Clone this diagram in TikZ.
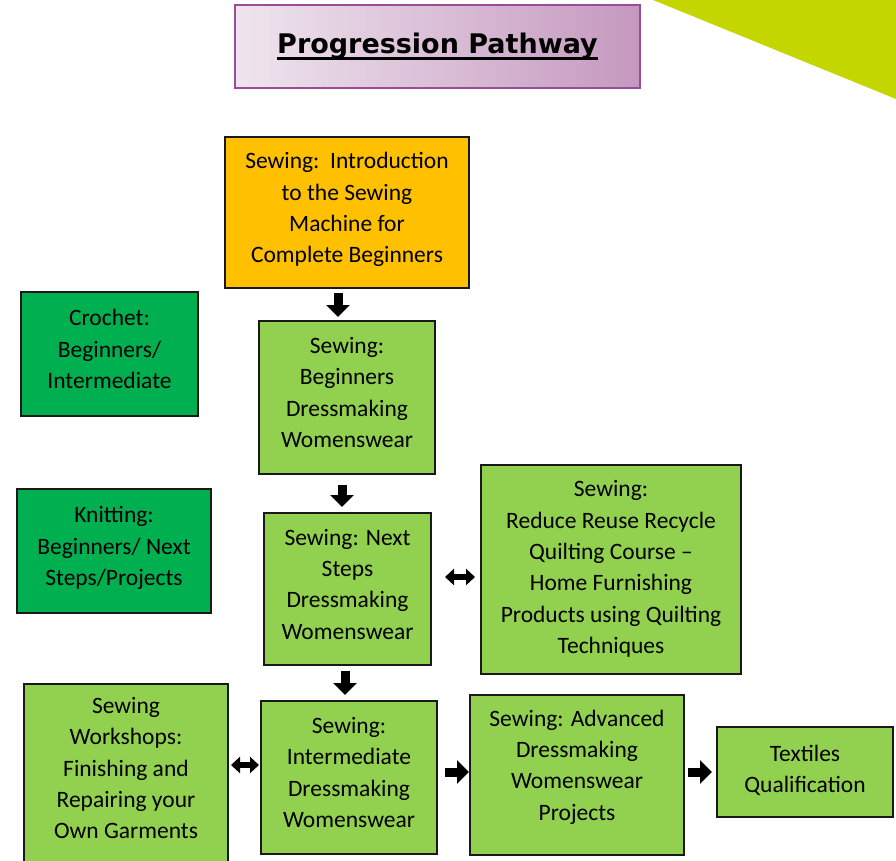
\documentclass[tikz,border=0pt]{standalone}
\usepackage{fontspec}
\setmainfont{Carlito}
\newfontfamily\titlefont{DejaVu Sans}
\usetikzlibrary{arrows.meta}
\definecolor{sewgreen}{HTML}{92D050}
\definecolor{craftgreen}{HTML}{00B050}
\definecolor{introorange}{HTML}{FFC000}
\definecolor{cornerlime}{HTML}{C4D600}
\definecolor{titlepurple}{HTML}{9E4A9A}
\definecolor{titleleft}{HTML}{EFE5EE}
\definecolor{titleright}{HTML}{C598BF}
\newcommand\thickul[1]{\setbox0\hbox{#1}\rlap{\vrule width\wd0 height -4pt depth 7pt}\box0}
\begin{document}
\begin{tikzpicture}[x=1pt,y=-1pt,
  course/.style={draw=black!90,line width=2pt,inner sep=0pt,align=center,fill=sewgreen,
    text depth=10pt,font=\fontsize{23.5}{31.3}\selectfont},
  bigarrow/.style={line width=9pt,-{Triangle[length=12pt,width=23pt]}},
  twoway/.style={line width=6pt,{Triangle[length=9pt,width=16pt]}-{Triangle[length=9pt,width=16pt]}}]
\useasboundingbox (0,0) rectangle (896,860);
\clip (0,0) rectangle (896,860);

\fill[cornerlime] (653,0) -- (896,0) -- (896,99) -- cycle;

\node[draw=titlepurple,line width=2.5pt,left color=titleleft,right color=titleright,
  minimum width=405pt,minimum height=83pt,inner sep=0pt] (title) at (437.5,46.5)
  {\titlefont\bfseries\fontsize{27}{30}\selectfont\thickul{Progression Pathway}};

\node[course,fill=introorange,minimum width=244pt,minimum height=151pt] (intro) at (347,212.5)
  {Sewing:\ \ Introduction\\to the Sewing\\Machine for\\Complete Beginners};
\node[course,fill=craftgreen,minimum width=177pt,minimum height=124pt] (crochet) at (109.5,354)
  {Crochet:\\Beginners/\\Intermediate};
\node[course,minimum width=176pt,minimum height=153pt] (beginners) at (347,397.5)
  {Sewing:\\Beginners\\Dressmaking\\Womenswear};
\node[course,fill=craftgreen,minimum width=194pt,minimum height=124pt] (knitting) at (114,551)
  {Knitting:\\Beginners/ Next\\Steps/Projects};
\node[course,minimum width=167pt,minimum height=152pt] (nextsteps) at (347.5,589)
  {Sewing: Next\\Steps\\Dressmaking\\Womenswear};
\node[course,text depth=5pt,minimum width=260pt,minimum height=209pt] (quilting) at (611,569.5)
  {Sewing:\\Reduce Reuse Recycle\\Quilting Course --\\Home Furnishing\\Products using Quilting\\Techniques};
\node[course,minimum width=204pt,minimum height=178pt] (workshops) at (126,773)
  {Sewing\\Workshops:\\Finishing and\\Repairing your\\Own Garments};
\node[course,minimum width=176pt,minimum height=153pt] (intermediate) at (349,777.5)
  {Sewing:\\Intermediate\\Dressmaking\\Womenswear};
\node[course,text depth=20pt,minimum width=214pt,minimum height=160pt] (advanced) at (577,775)
  {Sewing: Advanced\\Dressmaking\\Womenswear\\Projects};
\node[course,text depth=6pt,minimum width=176pt,minimum height=90pt] (textiles) at (805,772)
  {Textiles\\Qualification};

\draw[bigarrow] ([xshift=-9pt,yshift=-4pt]intro.south) -- ([xshift=-9pt,yshift=3pt]beginners.north);
\draw[bigarrow] ([xshift=-5pt,yshift=-10pt]beginners.south) -- ([xshift=-5.5pt,yshift=5pt]nextsteps.north);
\draw[bigarrow] ([xshift=-2.5pt,yshift=-5pt]nextsteps.south) -- ([xshift=-4pt,yshift=5pt]intermediate.north);
\draw[twoway] ([xshift=13pt,yshift=12pt]nextsteps.east) -- ([xshift=-5pt,yshift=-7.5pt]quilting.west);
\draw[twoway] ([xshift=2pt,yshift=8pt]workshops.east) -- ([xshift=-1pt,yshift=12.5pt]intermediate.west);
\draw[bigarrow] ([xshift=7pt,yshift=5.5pt]intermediate.east) -- ([yshift=3pt]advanced.west);
\draw[bigarrow] ([xshift=3pt,yshift=3pt]advanced.east) -- ([xshift=-4pt]textiles.west);
\end{tikzpicture}
\end{document}
